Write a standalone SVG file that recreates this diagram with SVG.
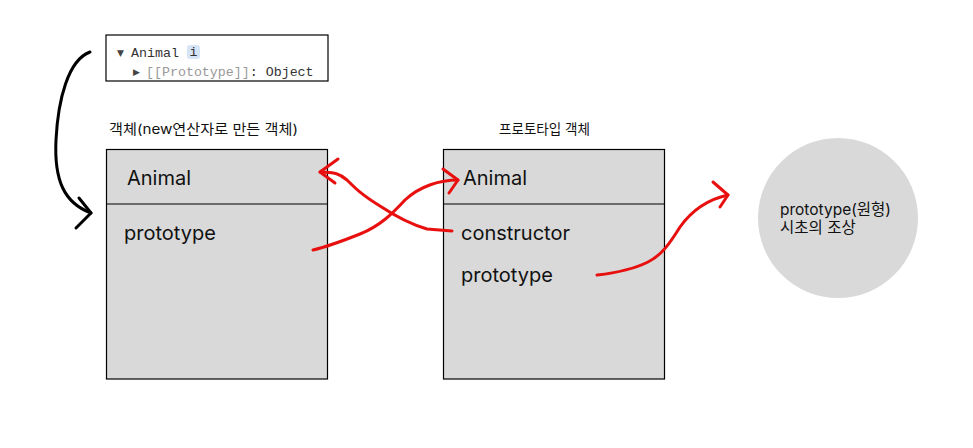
<svg xmlns="http://www.w3.org/2000/svg" width="973" height="448" viewBox="0 0 973 448">
<style>
.box{fill:#d9d9d9;stroke:#000;stroke-width:1.2}
.div{stroke:#000;stroke-width:1.2}
.lbl{font-family:Inter,"Noto Sans CJK KR",sans-serif;font-size:20px;fill:#111}
.ttl{font-family:Inter,"Noto Sans CJK KR",sans-serif;font-size:13.5px;fill:#111}
.ctx{font-family:Inter,"Noto Sans CJK KR",sans-serif;font-size:15.5px;fill:#111}
.mono{font-family:"Liberation Mono","DejaVu Sans Mono",monospace;font-size:13.3px;fill:#333}
.red{fill:none;stroke:#e8100f;stroke-width:3;stroke-linecap:round;stroke-linejoin:round}
.blk{fill:none;stroke:#000;stroke-width:3;stroke-linecap:round;stroke-linejoin:round}
</style>
<rect width="973" height="448" fill="#fff"/>
<g id="console">
<rect x="106" y="35" width="222" height="46" fill="#fff" stroke="#000" stroke-width="1.2"/>
<text x="117" y="56" font-family="DejaVu Sans" font-size="9" fill="#444">▼</text>
<text x="131" y="57" class="mono">Animal</text>
<rect x="187" y="45" width="13" height="14" rx="3" fill="#d6e4f7"/>
<text x="193.5" y="56" class="mono" font-size="11" text-anchor="middle" fill="#3a6fc4">i</text>
<text x="133" y="75" font-family="DejaVu Sans" font-size="9" fill="#444">▶</text>
<text x="146" y="76" class="mono"><tspan fill="#999">[[Prototype]]</tspan>: Object</text>
</g>
<g id="instance">
<text x="109" y="134" class="ttl" textLength="189" lengthAdjust="spacingAndGlyphs">객체(new연산자로 만든 객체)</text>
<rect x="106.5" y="149.5" width="221" height="229.5" class="box"/>
<line x1="106.5" y1="204" x2="327.5" y2="204" class="div"/>
<text x="127" y="185" class="lbl">Animal</text>
<text x="124" y="240" class="lbl">prototype</text>
</g>
<g id="prototype-object">
<text x="499" y="134" class="ttl" textLength="91" lengthAdjust="spacingAndGlyphs">프로토타입 객체</text>
<rect x="443.5" y="149.5" width="221" height="229.5" class="box"/>
<line x1="443.5" y1="204" x2="664.5" y2="204" class="div"/>
<text x="463" y="185" class="lbl">Animal</text>
<text x="461" y="240" class="lbl">constructor</text>
<text x="461" y="282" class="lbl">prototype</text>
</g>
<g id="ancestor">
<circle cx="838" cy="218" r="80" fill="#d9d9d9"/>
<text x="780" y="215" class="ctx">prototype(원형)</text>
<text x="780" y="233" class="ctx">시초의 조상</text>
</g>
<g id="connectors">
<path class="blk" d="M90,52 C68,60 58,100 56,140 C54,180 64,203 91,213"/>
<path class="blk" d="M79,198 L91,213 L76,228"/>
<path class="red" d="M452,231 L427,229 C410,224 395,216 380,206 C362,195 355,188 347,180 C340,174 335,172 320,172"/>
<path class="red" d="M338,159 L320,172 L335,183"/>
<path class="red" d="M313,250 C330,246 345,240 360,234 C380,226 392,214 405,200 C420,186 440,180 458,180"/>
<path class="red" d="M443,169 L458,180 L449,193"/>
<path class="red" d="M597,275 C615,273 632,270 648,262 C662,255 670,243 680,227 C690,213 705,200 728,195"/>
<path class="red" d="M713,182 L728,195 L720,207"/>
</g>
</svg>
